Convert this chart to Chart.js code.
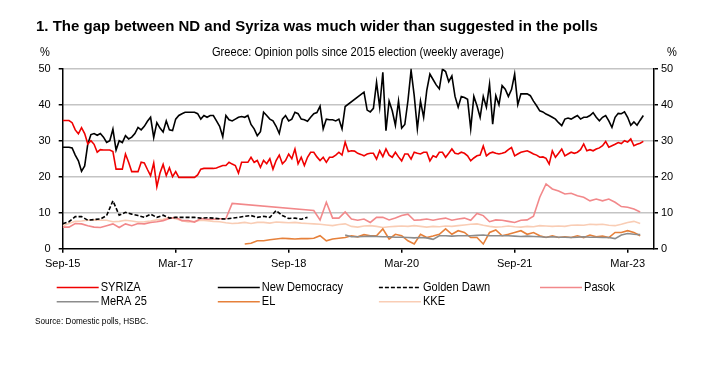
<!DOCTYPE html>
<html lang="en">

<head>
    <meta charset="UTF-8">
    <title>Greece opinion polls</title>
    <script src="https://cdn.jsdelivr.net/npm/chart.js"></script>
    <style>
        body { margin: 0; background: #fff; }
    </style>
</head>

<body>
    <canvas id="grafico" width="716" height="370"></canvas>

    <script>
        // months counted from Sep-15 (0); tick every 18 months
        const tickLabels = ['Sep-15', 'Mar-17', 'Sep-18', 'Mar-20', 'Sep-21', 'Mar-23'];
        const seriesNames = ['SYRIZA', 'New Democracy', 'Golden Dawn', 'Pasok', 'MeRA 25', 'EL', 'KKE'];

        // two readings per month, from Sep-15
        const syriza = [
            35.6, 35.6, 35.6, 35, 33, 31.9, 33.6, 32, 29.1, 30, 29, 26.8, 27.5, 27.4, 27.4, 27.4, 27, 22.1, 22.1, 22.1,
            26.3, 24, 21.4, 21.4, 21.4, 24, 23.8, 22, 20.3, 23.8, 17.2, 21, 23.4, 20.3, 22.5, 20, 21.4, 19.8, 19.8, 19.8,
            19.8, 19.8, 19.8, 20.5, 22.1, 22.3, 22.3, 22.3, 22.3, 22.4, 22.8, 23.1, 23.1, 24, 23.5, 23.1, 21, 24, 24, 24,
            25.4, 24, 24.5, 22.6, 24.5, 23.6, 25, 22.1, 24.5, 26, 23.6, 24.5, 26.3, 25, 27.7, 23.6, 25.4, 23.1, 25.4, 26.8,
            26.8, 25.5, 24.5, 25.4, 24, 25.4, 25.4, 26, 26.8, 26, 29.6, 27, 27.2, 27.1, 26.5, 26.2, 25.8, 26.3, 26.5, 26.5,
            24.9, 27.2, 25.6, 27.7, 26, 25.4, 26.8, 25.5, 24.4, 26.3, 26.3, 24.9, 26.8, 26.5, 26.3, 26.8, 26.8, 24.4, 25.8, 25.4,
            26.8, 26.8, 25.4, 26.5, 27.7, 26.5, 26.3, 26.8, 26.5, 25.8, 24.4, 25.2, 25.8, 26, 28.5, 25.8, 26.5, 26.8, 26.5, 26.3,
            26.5, 26.8, 27.5, 28.1, 25.8, 26.3, 26.8, 27, 27.2, 26.8, 26.3, 26, 25.4, 25.5, 25.1, 23.5, 27.2, 25.4, 26.5, 27.7,
            25.8, 26.3, 26.8, 26.5, 26.8, 27.5, 29.1, 27.2, 27.5, 27.2, 27.7, 28, 28.6, 29.8, 28.2, 28.6, 29, 29.5, 29.2, 30,
            29.6, 30.5, 28.6, 29, 29.3, 29.8
        ];
        const newDemocracy = [
            28.2, 28.2, 28.2, 28, 26, 24.4, 21.5, 23, 29.1, 31.7, 32, 31.5, 32, 31, 29.5, 30, 33.2, 27.4, 30, 29.5,
            31.4, 30.5, 31, 32, 33.7, 33, 34, 35.4, 36.5, 30.9, 35, 33.5, 32.4, 35.5, 33, 32.8, 36, 37, 37.5, 37.9,
            37.9, 37.9, 37.9, 37.5, 36, 37, 36.5, 37, 37, 35.5, 34, 31.1, 37, 35.8, 35.5, 36, 36.5, 36.7, 36.5, 37,
            34.5, 33.3, 31.4, 32.5, 37.9, 37, 36, 35.5, 34, 32, 36, 37, 35.5, 36, 37.9, 37.5, 36, 35.8, 35.4, 36.5,
            37.5, 37.8, 39.6, 33.3, 36, 35.8, 35.8, 35.5, 36, 33.3, 39.5, null, null, null, null, null, 43.5, 38.5, 38, 39,
            46.2, 39.3, 49, 32.8, 41, 38.3, 34.3, 41, 33.5, 34.5, 41.1, 49.6, 42.5, 33.3, 41, 36.5, 44, 48.5, 47, 45.5,
            44.4, 49.9, 49.2, 46.4, 48, 42.3, 39.3, 42.3, 42, 41.5, 33.3, 42.3, 39.7, 36.5, 42.3, 39.3, 45.7, 34.6, 42.5, 40,
            45.3, 44.3, 42.3, 44.2, 48.5, 40, 43, 43, 43, 42.5, 41, 39.7, 38.3, 38, 37.4, 37, 36.5, 36, 35, 34.2,
            36, 36.3, 36, 36.5, 37, 36, 36.5, 36.5, 37, 37.8, 36.5, 35.5, 36.5, 37, 35.5, 33.7, 36.5, 37.6, 37.5, 38,
            36.5, 34.3, 35.2, 34.3, 35.7, 37
        ];

        // one reading per month
        const goldenDawn = [
            6.9, 7.5, 8.9, 8.9, 7.9, 8.1, 8.25, 9.2, 13.3, 9.3, 10.1, 9.6, 9.2, 8.7, 9.6, 8.7, 9.3, 8.5, 8.7, 8.7,
            8.7, 8.7, 8.5, 8.6, 8.5, 8.3, 8.25, 8.5, 8.7, 9.0, 9.2, 8.7, 9.0, 8.7, 10.6, 9.2, 8.4, 8.5, 8.2, 8.7
        ];
        const pasok = [
            6.0, 6.0, 7.0, 6.9, 6.4, 6.0, 5.9, 6.4, 6.9, 5.9, 6.9, 6.4, 7.0, 6.9, 7.3, 7.5, 7.8, 8.4, 8.7, 7.8,
            7.8, 7.4, 8.4, 8.2, 8.2, 8.3, 8.4, 12.6, null, null, null, null, null, null, null, null, null, null, null, null,
            10.6, 8.0, 12.9, 8.5, 8.5, 10.2, 8.25, 7.9, 8.25, 7.3, 8.7, 8.7, 8.0, 8.5, 9.2, 9.6, 7.9, 8.0, 8.25, 7.9,
            8.25, 8.5, 7.9, 8.25, 8.5, 7.9, 9.8, 9.2, 7.5, 8.0, 7.9, 7.6, 7.3, 7.9, 8.0, 9.0, 14.3, 18.0, 16.6, 16.0,
            15.2, 15.4, 14.7, 14.3, 13.3, 13.8, 13.3, 13.8, 12.9, 11.7, 11.5, 11.0, 10.2
        ];
        const mera25From = 45; // Jun-19
        const mera25 = [
            3.8, 3.3, 3.3, 3.4, 3.5, 3.4, 3.3, 3.3, 3.2, 3.2, 3.1, 3.0, 3.1, 3.0, 2.6, 3.6, 3.6, 3.5, 3.6, 3.6,
            3.6, 3.7, 3.8, 3.6, 3.6, 3.6, 3.6, 3.5, 3.4, 3.5, 3.4, 3.3, 3.2, 3.3, 3.2, 3.2, 3.1, 3.2, 3.3, 3.2,
            3.2, 3.1, 3.1, 2.8, 3.8, 4.2, 4.0, 3.9
        ];
        const elFrom = 29; // Feb-18
        const el = [
            1.3, 1.5, 2.2, 2.2, 2.5, 2.7, 2.9, 2.8, 2.7, 2.8, 2.8, 2.9, 3.6, 2.2, 2.7, 2.9, 3.1, 3.6, 3.3, 3.9,
            3.6, 3.6, 5.5, 2.7, 4.0, 3.6, 2.2, 1.3, 4.0, 3.1, 3.5, 4.0, 5.5, 4.0, 5.0, 4.5, 3.1, 3.1, 1.3, 4.5,
            5.2, 3.6, 4.0, 4.5, 5.0, 4.0, 4.5, 3.6, 3.1, 3.6, 3.1, 3.3, 3.1, 3.6, 3.1, 3.8, 3.3, 3.5, 3.1, 4.5,
            4.5, 5.0, 4.5, 3.6
        ];
        const kke = [
            6.4, 7.0, 7.6, 7.7, 7.9, 8.0, 7.9, 7.9, 7.5, 7.6, 7.9, 7.7, 7.4, 7.5, 7.7, 8.0, 8.2, 8.7, 8.3, 7.8,
            7.4, 7.6, 7.9, 7.8, 7.6, 7.5, 7.2, 7.0, 7.1, 7.3, 7.0, 7.3, 7.3, 7.1, 7.4, 7.3, 7.2, 7.3, 7.1, 7.0,
            6.9, 6.8, 6.6, 6.4, 6.7, 6.9, 6.2, 6.0, 6.3, 6.4, 6.2, 5.9, 6.1, 6.2, 6.3, 6.2, 6.4, 6.2, 6.0, 6.2,
            6.1, 6.3, 6.2, 6.4, 6.6, 6.8, 6.9, 6.5, 6.2, 6.0, 6.1, 6.3, 6.1, 6.0, 6.2, 6.1, 6.4, 6.3, 6.2, 6.3,
            6.2, 6.5, 6.6, 6.5, 6.8, 6.7, 6.8, 6.5, 6.4, 6.8, 7.3, 7.6, 7.0
        ];

        const fuente = "'Liberation Sans', Arial, sans-serif";
        Chart.defaults.font.family = fuente;
        Chart.defaults.font.size = 11;
        Chart.defaults.color = '#000';

        function puntos(valores, desde, paso) {
            return valores.map((v, i) => ({ x: desde + i * paso, y: v }));
        }

        function serie(label, data, color, extra) {
            return Object.assign({
                label: label,
                data: data,
                borderColor: color,
                backgroundColor: color,
                borderWidth: 1.6,
                pointRadius: 0,
                tension: 0,
                spanGaps: true,
                yAxisID: 'y'
            }, extra || {});
        }

        // narrow-looking text: regular font squeezed sideways
        function texto(c, str, x, y, size, align) {
            c.save();
            c.font = size + 'px ' + fuente;
            c.textAlign = align;
            c.textBaseline = 'middle';
            c.translate(x, y);
            c.scale(0.88, 1);
            c.fillText(str, 0, 0);
            c.restore();
        }

        // titles, % marks, legend and source drawn on the canvas
        const decoracion = {
            id: 'decoracion',
            afterDraw(chart) {
                const c = chart.ctx;
                c.save();
                c.fillStyle = '#000';
                c.textBaseline = 'middle';

                c.font = "bold 15px " + fuente;
                c.textAlign = 'left';
                c.fillText('1. The gap between ND and Syriza was much wider than suggested in the polls', 36, 27);

                texto(c, 'Greece: Opinion polls since 2015 election (weekly average)', 358, 53, 12.6, 'center');
                texto(c, '%', 45, 53, 12.6, 'center');
                texto(c, '%', 672, 53, 12.6, 'center');

                chart.data.datasets.forEach((ds, i) => {
                    const x0 = 56.7 + (i % 4) * 161.1;
                    const y = 287.5 + Math.floor(i / 4) * 14.3;
                    c.beginPath();
                    c.strokeStyle = ds.borderColor;
                    c.lineWidth = 1.6;
                    c.setLineDash(ds.borderDash || []);
                    c.moveTo(x0, y);
                    c.lineTo(x0 + 42, y);
                    c.stroke();
                    c.setLineDash([]);
                    texto(c, ds.label, x0 + 44, y, 12.6, 'left');
                });

                texto(c, 'Source: Domestic polls, HSBC.', 35, 321, 9.3, 'left');
                c.restore();
            }
        };

        const ctx = document.getElementById('grafico').getContext('2d');
        new Chart(ctx, {
            type: 'line',
            data: {
                datasets: [
                    serie(seriesNames[0], puntos(syriza, 0, 0.5), '#f00000'),
                    serie(seriesNames[1], puntos(newDemocracy, 0, 0.5), '#000000'),
                    serie(seriesNames[2], puntos(goldenDawn, 0, 1), '#000000', { borderDash: [4, 2] }),
                    serie(seriesNames[3], puntos(pasok, 0, 1), '#f2888a'),
                    serie(seriesNames[4], puntos(mera25, mera25From, 1), '#8c8c8c'),
                    serie(seriesNames[5], puntos(el, elFrom, 1), '#e6803a'),
                    serie(seriesNames[6], puntos(kke, 0, 1), '#f9cdb5')
                ]
            },
            options: {
                responsive: false,
                animation: false,
                layout: { padding: { top: 68.7, bottom: 91.3, left: 0, right: 0 } },
                plugins: {
                    legend: { display: false },
                    tooltip: { enabled: false }
                },
                scales: {
                    x: {
                        type: 'linear',
                        min: 0,
                        max: 94.2,
                        afterFit(s) { s.height = 30; },
                        border: { color: '#000', width: 1.5 },
                        grid: { drawOnChartArea: false, color: '#000', tickLength: 4, lineWidth: 1.5 },
                        ticks: {
                            stepSize: 18,
                            includeBounds: false,
                            autoSkip: false,
                            maxRotation: 0,
                            padding: 5,
                            callback: v => tickLabels[v / 18]
                        }
                    },
                    y: {
                        position: 'left',
                        min: 0,
                        max: 50,
                        afterFit(s) { s.width = 62.7; },
                        border: { color: '#000', width: 1.5 },
                        grid: {
                            color: c => c.tick && c.tick.value === 0 ? 'rgba(0,0,0,0)' : '#c4c4c4',
                            lineWidth: 1.5,
                            tickColor: '#000',
                            tickLength: 4
                        },
                        ticks: { stepSize: 10, padding: 8 }
                    },
                    y2: {
                        position: 'right',
                        min: 0,
                        max: 50,
                        afterFit(s) { s.width = 62; },
                        border: { color: '#000', width: 1.5 },
                        grid: { drawOnChartArea: false, color: '#000', tickLength: 4, lineWidth: 1.5 },
                        ticks: { stepSize: 10, padding: 3 }
                    }
                }
            },
            plugins: [decoracion]
        });
    </script>

</body>

</html>
